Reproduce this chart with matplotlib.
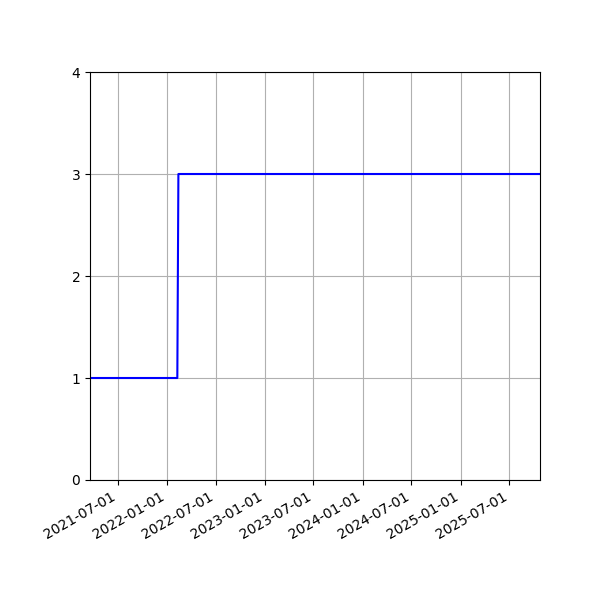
import matplotlib
matplotlib.use("Agg")
import matplotlib.pyplot as plt
import matplotlib.dates as mdates
import numpy as np
import datetime as dt

dates = ["2021-03-19", "2022-02-08", "2022-02-10", "2022-02-12", "2025-10-24"]
values = [1, 1, 2, 3, 3]

x = [np.datetime64(d) for d in dates]

fig = plt.figure(figsize=(6, 6), dpi=100)
ax = fig.add_subplot(111)
fig.subplots_adjust(left=0.15, right=0.9, top=0.88, bottom=0.2)
ax.plot(x, values, color="blue", linewidth=1.5)
ax.set_xlim(x[0], x[-1])
ax.set_ylim(0, 4)
ax.set_yticks([0, 1, 2, 3, 4])
ticks = [np.datetime64(f"{y}-{m}-01") for y in range(2021, 2026) for m in ("01", "07")]
ticks = [t for t in ticks if x[0] <= t <= x[-1]]
ax.set_xticks(ticks)
ax.xaxis.set_major_formatter(mdates.DateFormatter("%Y-%m-%d"))
ax.grid(True)
for lbl in ax.get_xticklabels():
    lbl.set_rotation(30)
    lbl.set_ha("right")
fig.savefig("out.png", dpi=100)
